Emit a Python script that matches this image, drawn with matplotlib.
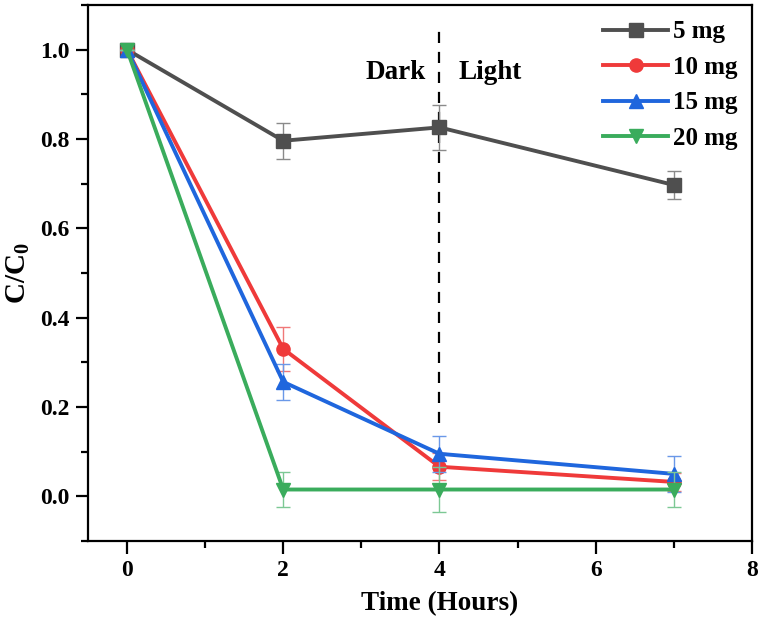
import numpy as np
import matplotlib
matplotlib.use('Agg')
import matplotlib.pyplot as plt
from matplotlib.ticker import MultipleLocator, FormatStrFormatter

plt.rcParams['font.family'] = ['Liberation Serif', 'DejaVu Serif']
plt.rcParams['font.weight'] = 'bold'
plt.rcParams['mathtext.fontset'] = 'custom'
plt.rcParams['mathtext.rm'] = 'Liberation Serif:bold'
plt.rcParams['mathtext.bf'] = 'Liberation Serif:bold'
plt.rcParams['mathtext.it'] = 'Liberation Serif:bold'

# data
time = [0, 2, 4, 7]
labels = ['5 mg', '10 mg', '15 mg', '20 mg']
c_5mg = [1.0, 0.796, 0.826, 0.697]
c_10mg = [1.0, 0.330, 0.066, 0.032]
c_15mg = [1.0, 0.256, 0.095, 0.050]
c_20mg = [1.0, 0.015, 0.015, 0.015]
err_5mg = [0.0, 0.040, 0.050, 0.032]
err_10mg = [0.0, 0.050, 0.030, 0.020]
err_15mg = [0.0, 0.040, 0.040, 0.040]
err_20mg = [0.0, 0.040, 0.050, 0.040]

colors = ['#4f4f4f', '#ef3a3a', '#1f66dd', '#3aac5c']
ecolors = ['#8a8a8a', '#f07878', '#6a98e8', '#7cc894']
markers = ['s', 'o', '^', 'v']

fig = plt.figure(figsize=(7.61, 6.26), dpi=100)
ax = fig.add_axes([0.1156, 0.136, 0.8724, 0.856])

series = [c_5mg, c_10mg, c_15mg, c_20mg]
errs = [err_5mg, err_10mg, err_15mg, err_20mg]
for i in range(len(series)):
    ax.errorbar(time, series[i], yerr=errs[i], fmt='none',
                ecolor=ecolors[i], elinewidth=1.0, capsize=5, capthick=1.0,
                zorder=3 + 2 * i)
    ax.plot(time, series[i], color=colors[i], marker=markers[i],
            markersize=9.5, linewidth=2.8, label=labels[i], zorder=4 + 2 * i)

# dark / light separator
ax.plot([4, 4], [0.165, 1.05], color='black', linestyle=(0, (5, 4)),
        linewidth=1.6, zorder=2)
ax.text(3.83, 0.948, 'Dark', ha='right', va='center', fontsize=19.5,
        fontweight='bold')
ax.text(4.24, 0.948, 'Light', ha='left', va='center', fontsize=19.5,
        fontweight='bold')

ax.set_xlim(-0.5, 8)
ax.set_ylim(-0.1, 1.1)
ax.xaxis.set_major_locator(MultipleLocator(2))
ax.xaxis.set_minor_locator(MultipleLocator(1))
ax.set_yticks(np.arange(0, 1.01, 0.2))
ax.yaxis.set_minor_locator(MultipleLocator(0.1))
ax.yaxis.set_major_formatter(FormatStrFormatter('%.1f'))

ax.tick_params(which='major', direction='out', length=9, width=1.6,
               labelsize=17)
ax.tick_params(axis='x', which='major', pad=5)
ax.tick_params(axis='y', which='major', pad=4)
ax.tick_params(which='minor', direction='out', length=5, width=1.6)
for sp in ax.spines.values():
    sp.set_linewidth(1.6)

ax.set_xlabel('Time (Hours)', fontsize=19.5, fontweight='bold', labelpad=7)
ax.xaxis.label.set_x(0.53)
ax.set_ylabel(r'$\mathbf{C/C_0}$', fontsize=21, labelpad=6)

ax.legend(loc='upper right', frameon=False, fontsize=18, handlelength=2.6,
          handletextpad=0.2, labelspacing=0.5, borderaxespad=0.2,
          borderpad=0.2, bbox_to_anchor=(0.994, 0.99))

plt.savefig('out.png', dpi=100)
